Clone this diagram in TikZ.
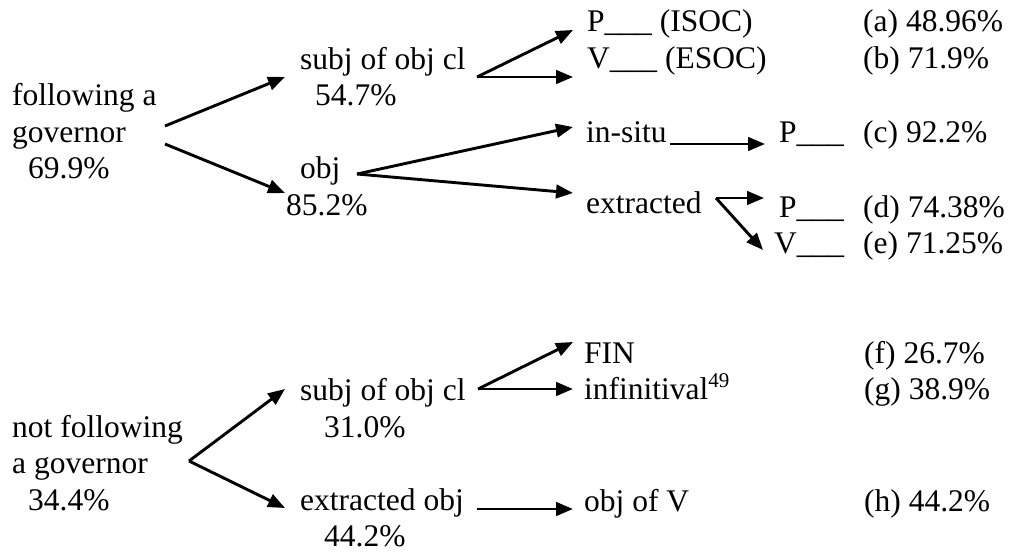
\documentclass[tikz,border=0pt]{standalone}
\usepackage{fontspec}
\setmainfont{Liberation Serif}
\usetikzlibrary{arrows.meta}
\tikzset{
  lbl/.style={anchor=base west, inner sep=0pt, font=\fontsize{31.5}{37}\selectfont},
  arr/.style={-{Triangle[length=17pt,width=13.5pt]}, line width=2.9pt}
}
\begin{document}
\begin{tikzpicture}[x=1pt,y=-1pt]
\useasboundingbox (0,0) rectangle (1019,551);
% ---- upper tree ----
\node[lbl] (fg1) at (12,105) {following a};
\node[lbl] (fg2) at (12,142) {governor};
\node[lbl] (fg3) at (28,178) {69.9\%};
\node[lbl] (s1) at (300,70) {subj of obj cl};
\node[lbl] (s1p) at (315,105) {54.7\%};
\node[lbl] (ob) at (300,178) {obj};
\node[lbl] (obp) at (286,215) {85.2\%};
\node[lbl] (pa) at (587,32) {P\_\_\_ (ISOC)};
\node[lbl] (vb) at (587,68) {V\_\_\_ (ESOC)};
\node[lbl] (ins) at (586,142) {in-situ};
\node[lbl] (pc) at (779,142) {P\_\_\_};
\node[lbl] (ext) at (586,213) {extracted};
\node[lbl] (pd) at (779,217) {P\_\_\_};
\node[lbl] (ve) at (774,253) {V\_\_\_};
\node[lbl] (ra) at (863,32) {(a) 48.96\%};
\node[lbl] (rb) at (863,68) {(b) 71.9\%};
\node[lbl] (rc) at (863,142) {(c) 92.2\%};
\node[lbl] (rd) at (863,217) {(d) 74.38\%};
\node[lbl] (re) at (863,253) {(e) 71.25\%};
% ---- lower tree ----
\node[lbl] (nf1) at (12,437) {not following};
\node[lbl] (nf2) at (12,473) {a governor};
\node[lbl] (nf3) at (28,510) {34.4\%};
\node[lbl] (s2) at (300,400) {subj of obj cl};
\node[lbl] (s2p) at (324,437) {31.0\%};
\node[lbl] (eo) at (300,510) {extracted obj};
\node[lbl] (eop) at (324,546) {44.2\%};
\node[lbl] (fin) at (584,363) {FIN};
\node[lbl] (inf) at (584,399) {infinitival\raisebox{12pt}{\fontsize{21}{21}\selectfont 49}};
\node[lbl] (ov) at (584,511) {obj of V};
\node[lbl] (rf) at (864,363) {(f) 26.7\%};
\node[lbl] (rg) at (864,399) {(g) 38.9\%};
\node[lbl] (rh) at (864,511) {(h) 44.2\%};
% ---- connector end points ----
\coordinate (fgA) at (165,126);
\coordinate (fgB) at (165,144);
\coordinate (s1T) at (285,77);
\coordinate (obT) at (285,193);
\coordinate (s1o) at (477,77);
\coordinate (paT) at (573,30);
\coordinate (vbT) at (573,77);
\coordinate (obo) at (357,174);
\coordinate (insT) at (573,127);
\coordinate (extT) at (573,193);
\coordinate (inso) at (670,144);
\coordinate (pcT) at (765,144);
\coordinate (exto) at (716,198);
\coordinate (pdT) at (764,198);
\coordinate (veT) at (763,250);
\coordinate (nfo) at (189,461);
\coordinate (s2T) at (285,389);
\coordinate (eoT) at (285,508);
\coordinate (s2o) at (478,389);
\coordinate (finT) at (573,342);
\coordinate (infT) at (573,389);
\coordinate (eoo) at (477,509);
\coordinate (ovT) at (573,509);
% ---- connectors ----
\draw[arr] (fgA) -- (s1T);
\draw[arr] (fgB) -- (obT);
\draw[arr] (s1o) -- (paT);
\draw[arr] (s1o) -- (vbT);
\draw[arr] (obo) -- (insT);
\draw[arr] (obo) -- (extT);
\draw[arr] (inso) -- (pcT);
\draw[arr] (exto) -- (pdT);
\draw[arr] (exto) -- (veT);
\draw[arr] (nfo) -- (s2T);
\draw[arr] (nfo) -- (eoT);
\draw[arr] (s2o) -- (finT);
\draw[arr] (s2o) -- (infT);
\draw[arr] (eoo) -- (ovT);
\end{tikzpicture}
\end{document}
